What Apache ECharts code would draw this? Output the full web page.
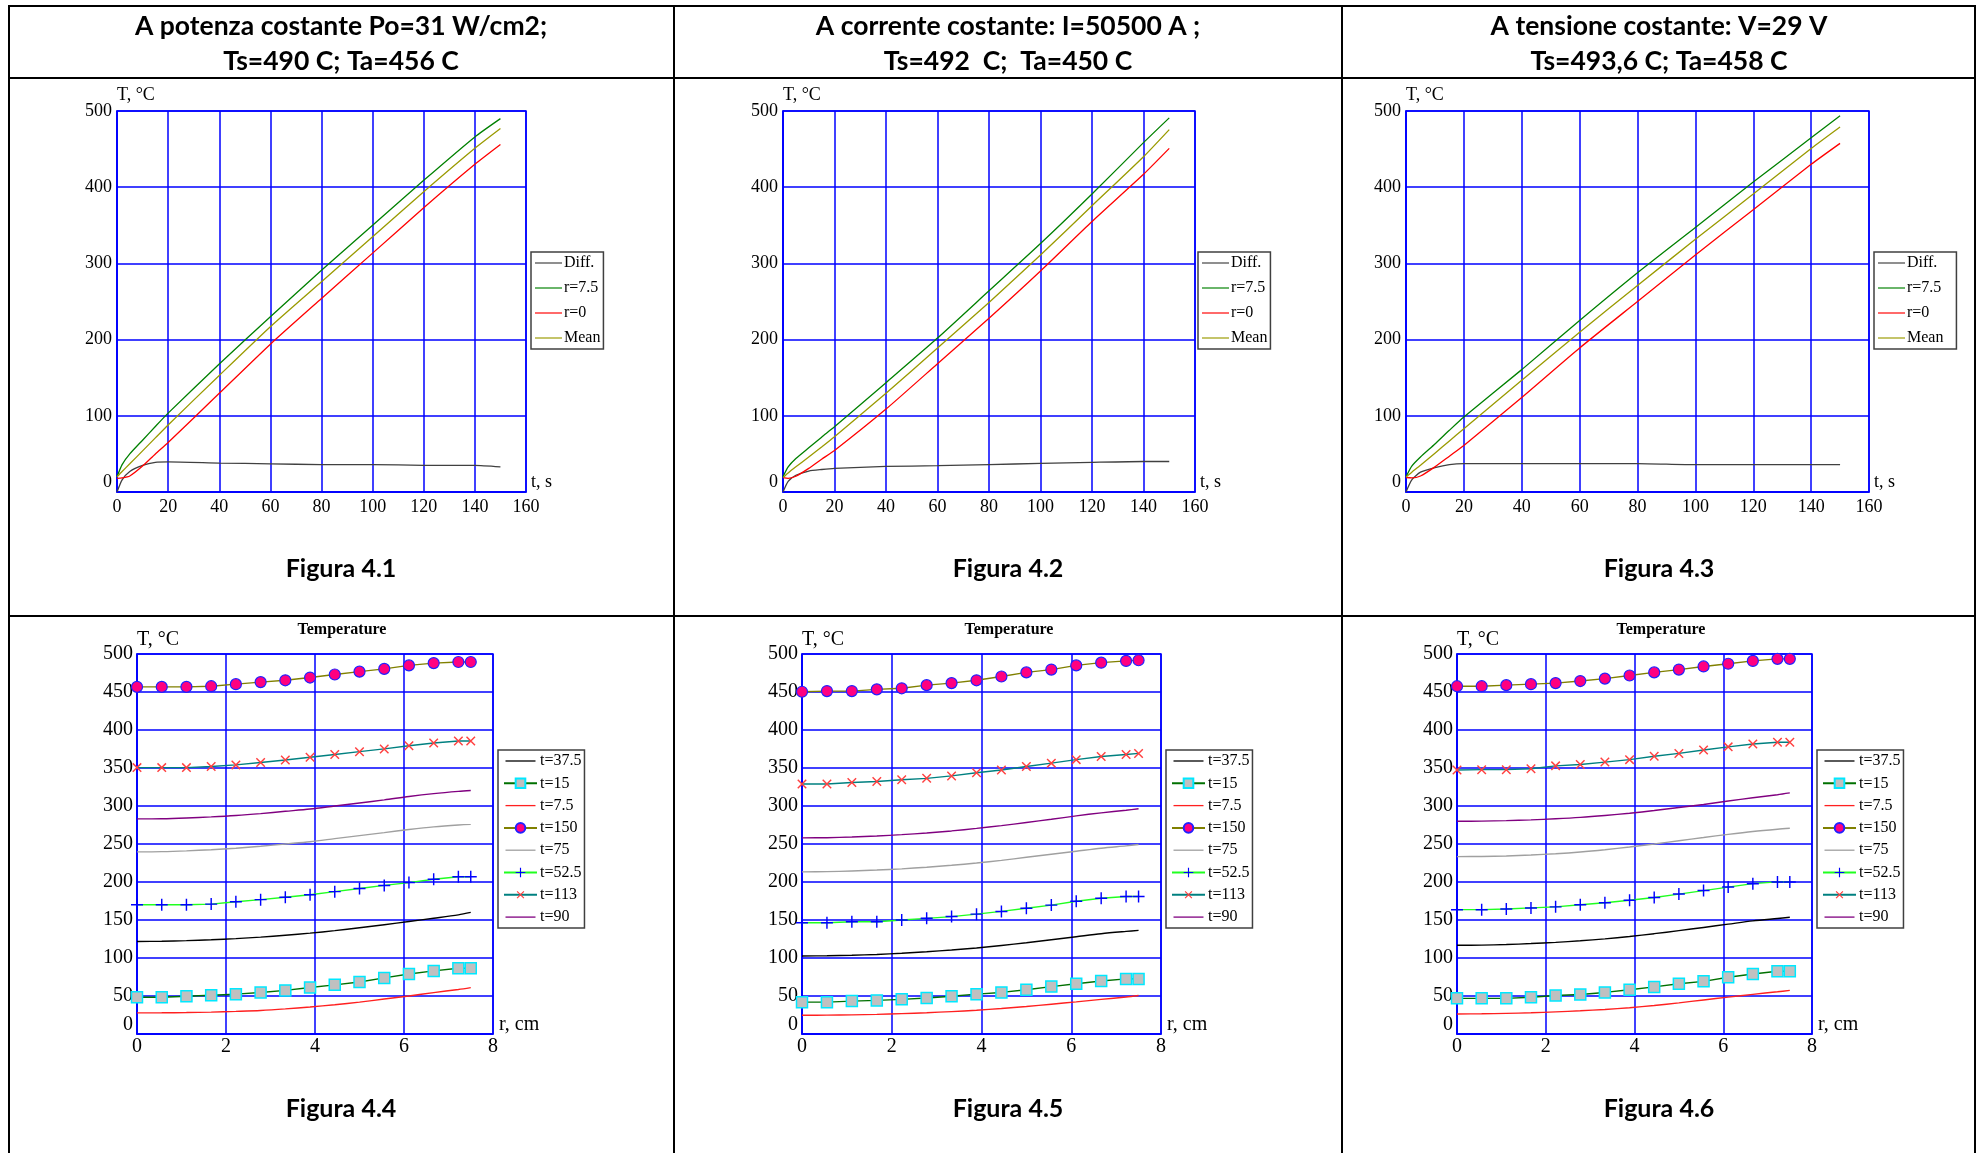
<!DOCTYPE html>
<html>
<head>
<meta charset="utf-8">
<script src="https://cdn.jsdelivr.net/npm/echarts@6.0.0/dist/echarts.min.js"></script>
<style>
html,body{margin:0;padding:0;background:#fff;}
#chart{width:1977px;height:1153px;}
</style>
</head>
<body>
<div id="chart"></div>
<script>
// ---------- DATA ----------
// Top row: temperature vs time t (s)
const tTime = [0, 2, 5, 10, 15, 20, 40, 60, 80, 100, 120, 140, 150];
const topNames = ['Diff.', 'r=7.5', 'r=0', 'Mean'];

const fig41_diff = [0, 16, 27, 35, 39, 39.5, 38, 37, 36, 36, 35, 35, 33];
const fig41_r75  = [20, 36, 50, 68, 86, 103.5, 168, 230, 291, 350, 409, 466, 490];
const fig41_r0   = [18, 18.5, 21, 34, 50, 65, 129.5, 194, 254, 313.5, 373, 430, 456];
const fig41_mean = [20, 27, 37, 54, 71, 88, 153, 217, 276, 335, 394, 451, 477];

const fig42_diff = [0, 14, 22, 27.5, 29.5, 31, 33.5, 34.5, 36, 37.5, 38.9, 40, 40];
const fig42_r75  = [20, 33, 44, 58, 72, 85.5, 143.5, 202, 264, 326, 391, 458.5, 491];
const fig42_r0   = [19, 18, 20.7, 31, 43, 54.4, 108.8, 168.4, 228, 290, 355, 417, 451];
const fig42_mean = [19, 25, 33, 46, 59, 72.5, 129.5, 189, 248.7, 311, 375.6, 440, 475.6];

const fig43_diff = [0, 16, 26, 32, 36, 37.3, 37.3, 37.3, 37.3, 35.8, 35.8, 35.8, 35.8];
const fig43_r75  = [20, 34, 46, 63, 81, 98.4, 160.6, 225, 287.6, 347, 406.7, 464.8, 493.8];
const fig43_r0   = [19, 18.5, 21, 33, 47, 61, 124, 189, 250, 311, 370.5, 430, 457.5];
const fig43_mean = [19.7, 26, 35, 51, 67, 83, 146.6, 209.8, 271, 331.6, 391, 450.8, 479];

// Bottom row: temperature vs radius r (cm)
const rPos = [0, 0.556, 1.111, 1.667, 2.222, 2.778, 3.333, 3.889, 4.444, 5.0, 5.556, 6.111, 6.667, 7.222, 7.5];
const botNames = ['t=37.5', 't=15', 't=7.5', 't=150', 't=75', 't=52.5', 't=113', 't=90'];

const fig44_t375 = [121.7, 122, 122.8, 124, 125.5, 127.5, 130, 132.7, 136, 139.8, 143.8, 148, 152.3, 156.8, 160];
const fig44_t15  = [48.3, 48.3, 49.7, 51, 52.4, 54.7, 57.4, 61.1, 64.7, 68.4, 73.8, 78.9, 83, 86.6, 86.6];
const fig44_t75s = [27.8, 27.9, 28.2, 28.8, 29.8, 31, 33, 35.5, 38.5, 42, 46, 50, 54.5, 58.5, 61];
const fig44_t150 = [456.7, 456.7, 456.7, 457.6, 460.3, 463, 465.4, 469, 473, 476.8, 480.4, 485, 488, 489.5, 489.5];
const fig44_t75  = [239.7, 240, 241, 242.5, 244.5, 247, 250, 253, 257, 261, 265, 269, 272.5, 275, 275.8];
const fig44_t525 = [170, 170, 170, 170.9, 174.1, 176.8, 180, 183.2, 187.3, 191.4, 195.5, 199.2, 203.7, 206.9, 206.9];
const fig44_t113 = [350.5, 350.5, 350.5, 351.9, 354.1, 357.3, 360.5, 364.2, 367.8, 371.5, 375.1, 379.2, 382.9, 385.5, 385.5];
const fig44_t90  = [283, 283.3, 284.3, 285.7, 287.5, 290, 293, 296, 300, 304, 308, 312.5, 316.3, 319.3, 320.4];

const fig45_t375 = [102.6, 102.9, 103.6, 104.7, 106.2, 108.2, 110.5, 113.2, 116.5, 120, 124, 128, 132, 135, 136.3];
const fig45_t15  = [41.9, 41.9, 43.3, 44.2, 45.6, 47.4, 49.7, 52.4, 54.7, 58.3, 62.4, 66.1, 69.7, 72.5, 72.5];
const fig45_t75s = [24.6, 24.8, 25.2, 25.8, 26.8, 28, 29.5, 31.3, 33.6, 36.2, 39.2, 42.3, 45.5, 48.7, 50.6];
const fig45_t150 = [450.3, 451.2, 451.2, 453.5, 454.9, 459, 461.7, 465.4, 470.4, 475.8, 479.5, 485, 488.6, 490.9, 491.8];
const fig45_t75  = [213.3, 213.6, 214.5, 215.7, 217.3, 219.5, 222, 225, 228.5, 232.5, 236.5, 240.5, 244.5, 247.6, 249.3];
const fig45_t525 = [146.3, 146.3, 147.7, 147.7, 150, 152.2, 154.5, 157.7, 161.3, 165.5, 169.6, 174.6, 178.7, 181, 181];
const fig45_t113 = [329, 329, 331, 332.3, 334.5, 336.4, 339.6, 343.7, 347.3, 351.9, 356.4, 361, 365.1, 367.8, 369.2];
const fig45_t90  = [258, 258.3, 259.2, 260.5, 262.3, 264.5, 267.2, 270.5, 274.2, 278.3, 282.5, 287, 291, 294.5, 296.3];

const fig46_t375 = [116.7, 117, 117.7, 119, 120.6, 122.7, 125.2, 128.3, 132, 136, 140.2, 144.5, 148.8, 152, 153.6];
const fig46_t15  = [46.9, 46.9, 46.9, 48.3, 50.6, 52, 54.7, 58.3, 62, 66.1, 69.3, 74.7, 78.9, 82.5, 82.5];
const fig46_t75s = [26.4, 26.6, 27.1, 27.9, 29.1, 30.5, 32.3, 34.6, 37.5, 41, 44.8, 48.5, 52.2, 55.5, 57.4];
const fig46_t150 = [457.6, 457.6, 459, 460.3, 461.7, 464.4, 467.6, 471.7, 475.8, 479.5, 483.6, 487.2, 490.9, 493.6, 493.6];
const fig46_t75  = [233.4, 233.6, 234.3, 235.5, 237.2, 239.5, 242.5, 246, 250, 254.3, 258.5, 262.7, 266.5, 269.5, 270.7];
const fig46_t525 = [163.6, 163.6, 164.5, 165.9, 167.3, 170, 172.7, 175.9, 179.6, 184.1, 188.7, 193.3, 197.8, 200.1, 200.1];
const fig46_t113 = [347.3, 347.8, 347.8, 349.1, 352.8, 354.6, 357.8, 361, 365.5, 369.2, 373.7, 377.8, 381.5, 383.8, 383.8];
const fig46_t90  = [279.9, 280.1, 280.8, 281.8, 283.2, 285, 287.5, 290.5, 294, 298, 302, 306.5, 310.8, 314.8, 317.2];

const headers = [
  ['A potenza costante Po=31 W/cm2;', 'Ts=490 C; Ta=456 C'],
  ['A corrente costante: I=50500 A ;', 'Ts=492  C;  Ta=450 C'],
  ['A tensione costante: V=29 V', 'Ts=493,6 C; Ta=458 C']
];
const figLabelsTop = ['Figura 4.1', 'Figura 4.2', 'Figura 4.3'];
const figLabelsBot = ['Figura 4.4', 'Figura 4.5', 'Figura 4.6'];
const botTitle = 'Temperature';
const topXName = 't, s';
const botXName = 'r, cm';

const topTicksX = {min: 0, max: 160, interval: 20};
const topTicksY = {min: 0, max: 500, interval: 100};
const botTicksX = {min: 0, max: 8, interval: 2};
const botTicksY = {min: 0, max: 500, interval: 50};

// ---------- LAYOUT / STYLE ----------
const SERIF = 'Liberation Serif';
const BLUE = '#0000ff';
const topGrids = [
  {left: 117, top: 111, width: 409, height: 381},
  {left: 783, top: 111, width: 412, height: 381},
  {left: 1406, top: 111, width: 463, height: 381}
];
const botGrids = [
  {left: 137, top: 654, width: 356, height: 380},
  {left: 802, top: 654, width: 359, height: 380},
  {left: 1457, top: 654, width: 355, height: 380}
];
const topLegendPos = [{left: 531, top: 252, extra: 0}, {left: 1198, top: 252, extra: 0}, {left: 1874, top: 252, extra: 10}];
const botLegendPos = [{left: 498, top: 750, extra: 0}, {left: 1166, top: 750, extra: 0}, {left: 1817, top: 750, extra: 0}];
const colCenters = [341, 1008, 1659];

const topColors = {'Diff.': '#404040', 'r=7.5': '#008000', 'r=0': '#ff0000', 'Mean': '#9a9a00'};
const PLUS = 'path://M0,4.4H10V5.6H0Z M4.4,0H5.6V10H4.4Z';
// legend icon for a plain line (bounding box 30x12 defined by the moves)
const LINE_ICON = 'path://M0,0M30,12M0,5.35H30V6.65H0Z';

const grids = [], xAxes = [], yAxes = [], series = [], legends = [];
const graphics = [];

function zeroUp(size, pad) {
  return {
    formatter: v => (v === 0 ? '{z|0}' : String(v)),
    rich: {z: {fontFamily: SERIF, fontSize: size, color: '#000', padding: [0, 0, pad, 0]}}
  };
}

function addAxes(g, tx, ty, fs, xMargin, yMargin, zeroPad, yNameGap) {
  const idx = grids.length;
  grids.push(Object.assign({show: true, borderColor: BLUE, borderWidth: 1.5, backgroundColor: '#fff'}, g));
  xAxes.push(Object.assign({
    type: 'value', gridIndex: idx,
    axisLine: {show: true, lineStyle: {color: BLUE, width: 1.5}},
    axisTick: {show: false},
    splitLine: {show: true, lineStyle: {color: BLUE, width: 1.5}},
    axisLabel: {fontFamily: SERIF, fontSize: fs, color: '#000', margin: xMargin, showMaxLabel: true, showMinLabel: true}
  }, tx));
  yAxes.push(Object.assign({
    type: 'value', gridIndex: idx,
    name: 'T, °C', nameLocation: 'end', nameGap: yNameGap,
    nameTextStyle: {fontFamily: SERIF, fontSize: fs, color: '#000', align: 'left', verticalAlign: 'middle'},
    axisLine: {show: true, lineStyle: {color: BLUE, width: 1.5}},
    axisTick: {show: false},
    splitLine: {show: true, lineStyle: {color: BLUE, width: 1.5}},
    axisLabel: Object.assign({fontFamily: SERIF, fontSize: fs, color: '#000', margin: yMargin, showMaxLabel: true, showMinLabel: true}, zeroUp(fs, zeroPad))
  }, ty));
  return idx;
}

function leftText(str, x, y, font) {
  graphics.push({type: 'text', x: x, y: y, z: 100,
    style: {text: str, font: font, fill: '#000', align: 'left', verticalAlign: 'middle', textAlign: 'left', textVerticalAlign: 'middle'}});
}

const topData = [
  {'Diff.': fig41_diff, 'r=7.5': fig41_r75, 'r=0': fig41_r0, 'Mean': fig41_mean},
  {'Diff.': fig42_diff, 'r=7.5': fig42_r75, 'r=0': fig42_r0, 'Mean': fig42_mean},
  {'Diff.': fig43_diff, 'r=7.5': fig43_r75, 'r=0': fig43_r0, 'Mean': fig43_mean}
];
const botData = [
  [fig44_t375, fig44_t15, fig44_t75s, fig44_t150, fig44_t75, fig44_t525, fig44_t113, fig44_t90],
  [fig45_t375, fig45_t15, fig45_t75s, fig45_t150, fig45_t75, fig45_t525, fig45_t113, fig45_t90],
  [fig46_t375, fig46_t15, fig46_t75s, fig46_t150, fig46_t75, fig46_t525, fig46_t113, fig46_t90]
];

const botStyles = [
  {line: '#000000', symbol: 'none'},
  {line: '#007000', symbol: 'rect', size: 11, fill: '#c0c0c0', border: '#00e8ff', bw: 1.5},
  {line: '#ff2020', symbol: 'none'},
  {line: '#808000', symbol: 'circle', size: 11, fill: '#ff0080', border: '#2020ff', bw: 1.2},
  {line: '#a0a0a0', symbol: 'none'},
  {line: '#20ff20', symbol: PLUS, size: 12, fill: '#0000ff', border: '#0000ff', bw: 0},
  {line: '#008080', symbol: PLUS, size: 12, fill: '#ff4040', border: '#ff4040', bw: 0, rot: 45},
  {line: '#800080', symbol: 'none'}
];

// top row charts
for (let k = 0; k < 3; k++) {
  const g = topGrids[k];
  const gi = addAxes(g, topTicksX, topTicksY, 18, 6, 5, 20, 16);
  leftText(topXName, g.left + g.width + 5, g.top + g.height - 10, '18px "Liberation Serif"');
  topNames.forEach(n => {
    series.push({
      type: 'line', name: n, xAxisIndex: gi, yAxisIndex: gi,
      data: tTime.map((t, i) => [t, topData[k][n][i]]),
      symbol: 'none', showSymbol: false, smooth: 0.2,
      lineStyle: {color: topColors[n], width: 1.3},
      itemStyle: {color: topColors[n]}
    });
  });
  const lp = topLegendPos[k];
  legends.push({
    show: true, orient: 'vertical', left: lp.left, top: lp.top,
    data: topNames.map(n => ({name: n, icon: LINE_ICON})), selectedMode: false,
    itemWidth: 27, itemHeight: 12, itemGap: 9,
    padding: [3, 3 + lp.extra, 3, 4],
    borderColor: '#404040', borderWidth: 1.5, backgroundColor: '#fff',
    textStyle: {fontFamily: SERIF, fontSize: 16, color: '#000', padding: [0, 0, 0, -3]}
  });
}

// bottom row charts
for (let k = 0; k < 3; k++) {
  const g = botGrids[k];
  const gi = addAxes(g, botTicksX, botTicksY, 20, 3, 4, 18, 14);
  leftText(botXName, g.left + g.width + 6, g.top + g.height - 9, '20px "Liberation Serif"');
  botNames.forEach((n, j) => {
    const st = botStyles[j];
    const s = {
      type: 'line', name: n, xAxisIndex: gi, yAxisIndex: gi,
      data: rPos.map((r, i) => [r, botData[k][j][i]]),
      smooth: st.symbol === 'none' ? 0.3 : false,
      lineStyle: {color: st.line, width: 1.4},
      z: st.symbol === 'none' ? 2 : 3
    };
    if (st.symbol === 'none') {
      s.symbol = 'none'; s.showSymbol = false;
      s.itemStyle = {color: st.line};
    } else {
      s.symbol = st.symbol; s.symbolSize = st.size; s.showSymbol = true; s.showAllSymbol = true;
      if (st.rot) s.symbolRotate = st.rot;
      s.itemStyle = {color: st.fill, borderColor: st.border, borderWidth: st.bw, opacity: 1};
    }
    series.push(s);
  });
  const lp = botLegendPos[k];
  legends.push({
    show: true, orient: 'vertical', left: lp.left, top: lp.top,
    data: botNames.map((n, j) => (botStyles[j].symbol === 'none' ? {name: n, icon: LINE_ICON} : {name: n})),
    selectedMode: false,
    itemWidth: 33, itemHeight: 12, itemGap: 6.3,
    padding: [3, 3 + lp.extra, 3, 5],
    borderColor: '#404040', borderWidth: 1.5, backgroundColor: '#fff',
    textStyle: {fontFamily: SERIF, fontSize: 16, color: '#000', padding: [0, 0, 0, -2]}
  });
}

// ---------- TABLE (graphic) ----------
const HFONT = 'bold 26.5px Lato';
const FFONT = 'bold 25px Lato';
function hline(x1, x2, y) { graphics.push({type: 'line', shape: {x1: x1, y1: y, x2: x2, y2: y}, style: {stroke: '#000', lineWidth: 2}, z: 100}); }
function vline(x, y1, y2) { graphics.push({type: 'line', shape: {x1: x, y1: y1, x2: x, y2: y2}, style: {stroke: '#000', lineWidth: 2}, z: 100}); }
function text(str, x, y, font) {
  graphics.push({type: 'text', x: x, y: y, z: 100,
    style: {text: str, font: font, fill: '#000', align: 'center', verticalAlign: 'middle', textAlign: 'center', textVerticalAlign: 'middle'}});
}
hline(8, 1976, 6);
hline(8, 1976, 78);
hline(8, 1976, 616);
vline(9, 5, 1153);
vline(674, 5, 1153);
vline(1342, 5, 1153);
vline(1975, 5, 1153);
for (let k = 0; k < 3; k++) {
  text(headers[k][0], colCenters[k], 26, HFONT);
  text(headers[k][1], colCenters[k], 61, HFONT);
  text(figLabelsTop[k], colCenters[k], 569, FFONT);
  text(figLabelsBot[k], colCenters[k], 1109, FFONT);
}
const botTitleX = [342, 1009, 1661];
botTitleX.forEach(x => text(botTitle, x, 630, 'bold 16px "Liberation Serif"'));

const chart = echarts.init(document.getElementById('chart'), null, {renderer: 'canvas'});
chart.setOption({
  animation: false,
  backgroundColor: '#fff',
  grid: grids, xAxis: xAxes, yAxis: yAxes,
  legend: legends,
  series: series,
  graphic: graphics
});
</script>
</body>
</html>
